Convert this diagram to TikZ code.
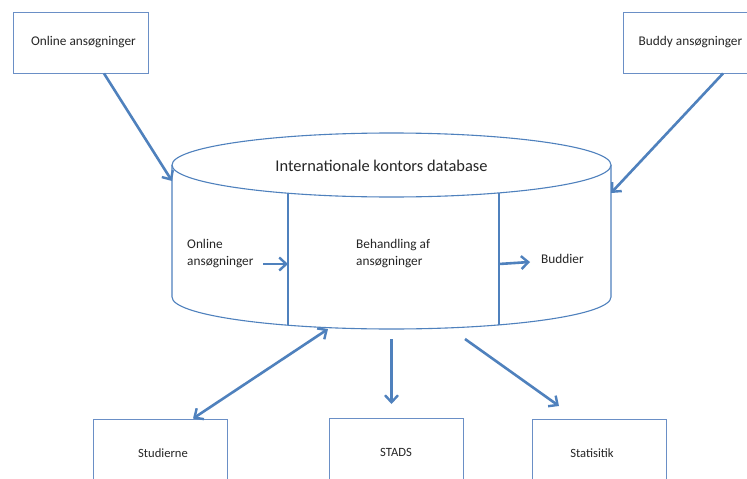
\documentclass[tikz,border=0pt]{standalone}
\usepackage{fontspec}
\setmainfont{Carlito}
\usetikzlibrary{arrows.meta}
\definecolor{officeblue}{HTML}{4F81BD}
\definecolor{boxblue}{HTML}{6A8FC6}
\begin{document}
\begin{tikzpicture}[x=1pt,y=-1pt,
  box/.style={draw=boxblue,line width=0.9pt,fill=white,inner sep=0pt,
    font=\fontsize{13.3}{15}\selectfont,text=black!85},
  topbox/.style={box,minimum width=135pt,minimum height=61pt},
  botbox/.style={box,minimum width=134pt,minimum height=68pt,
    font=\fontsize{12.6}{15}\selectfont},
  cyl/.style={draw=officeblue,line width=1.1pt},
  divider/.style={draw=officeblue,line width=2.6pt},
  flow/.style={draw=officeblue,line width=2.6pt,
    -{Straight Barb[length=7pt,width=13pt,line width=2.4pt]}},
  flowboth/.style={flow,{Straight Barb[length=7pt,width=13pt,line width=2.4pt]}-{Straight Barb[length=7pt,width=13pt,line width=2.4pt]}},
  lbl/.style={inner sep=0pt,align=left,font=\fontsize{13.3}{17}\selectfont,text=black!85}]
\useasboundingbox (0,0) rectangle (747,479);
\clip (0,0) rectangle (747,479);
\fill[white] (0,0) rectangle (747,479);

% source boxes
\node[topbox] (online) at (80.5,42.5) {\hspace*{6pt}Online ansøgninger};
\node[topbox] (buddy) at (690.5,42.5) {Buddy ansøgninger};

% database cylinder
\path[cyl,fill=white] (172,165) -- (172,297)
  arc[start angle=180,end angle=0,x radius=219.5,y radius=32] -- (611,165);
\draw[cyl,fill=white] (391.5,165) ellipse[x radius=219.5,y radius=32];
\node[inner sep=0pt,font=\fontsize{16.4}{18}\selectfont,text=black!85] (dbtitle) at (381.5,166) {Internationale kontors database};

% internal dividers
\coordinate (d1top) at (288,193.2);
\coordinate (d1bot) at (288,325.2);
\coordinate (d2top) at (499,192.9);
\coordinate (d2bot) at (499,324.9);
\draw[divider] (d1top) -- (d1bot);
\draw[divider] (d2top) -- (d2bot);

\node[lbl,anchor=west] (onlinein) at (187,254) {Online\\ansøgninger};
\node[lbl,anchor=west] (behandling) at (356,254) {Behandling af\\ansøgninger};
\node[lbl,anchor=west] (buddier) at (541,259) {Buddier};

\coordinate (inA) at (263,264);
\coordinate (inB) at (288,264);
\coordinate (outA) at (499,264);
\coordinate (outB) at (530,262);
\draw[flow] (inA) -- (inB);
\draw[flow] (outA) -- (outB);

% inputs into the database
\coordinate (dbleft) at (172,181);
\coordinate (dbright) at (611,193);
\draw[flow] (online.south -| 104,0) -- (dbleft);
\draw[flow] (buddy.south -| 723,0) -- (dbright);

% output boxes
\node[botbox] (studierne) at (160,453) {\hspace*{6pt}Studierne};
\node[botbox] (stads) at (396,452) {STADS};
\node[botbox] (statistik) at (599,453) {\hspace*{-14pt}Statisitik};

\coordinate (dbbotA) at (328,329);
\coordinate (dbbotB) at (391.5,339);
\coordinate (dbbotC) at (465,339);
\coordinate (stadsin) at (391.5,404);
\coordinate (statin) at (559,406);
\draw[flowboth] (studierne.north -| 193,0) -- (dbbotA);
\draw[flow] (dbbotB) -- (stadsin);
\draw[flow] (dbbotC) -- (statin);
\end{tikzpicture}
\end{document}
